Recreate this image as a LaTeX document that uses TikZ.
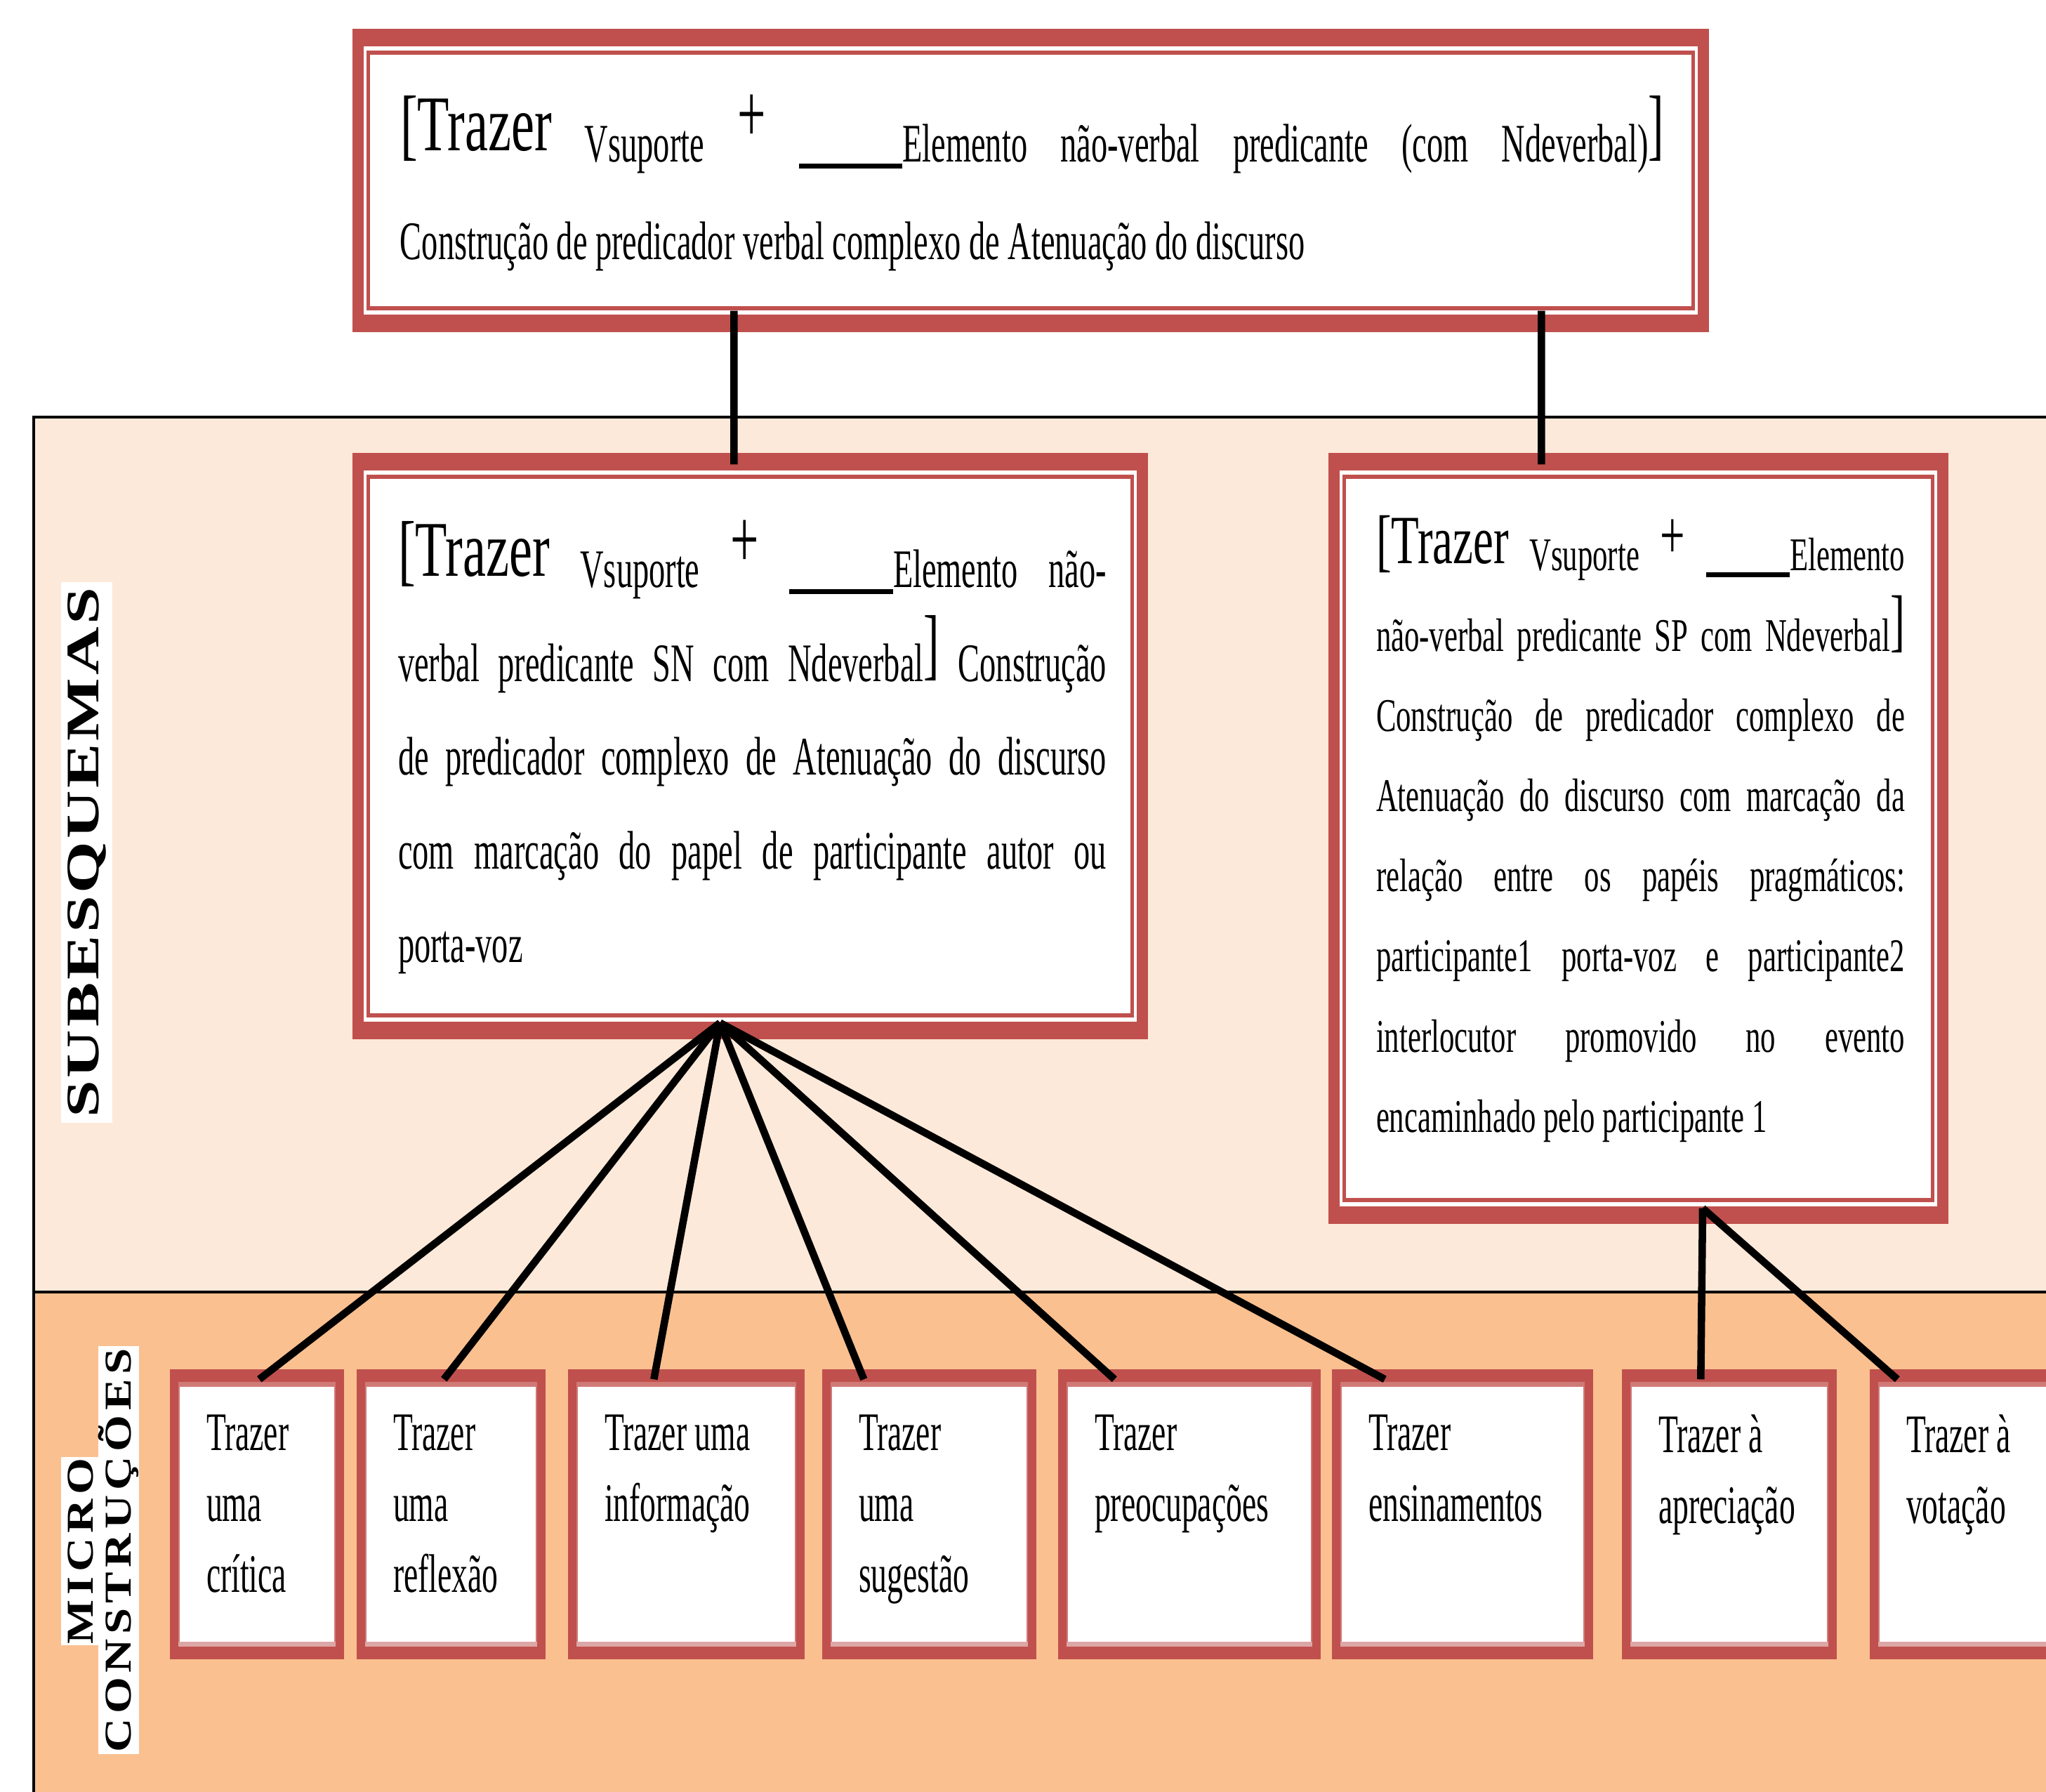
\documentclass[tikz,border=0pt]{standalone}
\usepackage{fontspec}
\setmainfont{Liberation Serif}
\newfontfamily\estreita[FakeStretch=0.6]{Liberation Serif}
\newfontfamily\medio[FakeStretch=0.64]{Liberation Serif}
\newfontfamily\largo[FakeStretch=0.66]{Liberation Serif}
\newfontfamily\caixa[FakeStretch=0.59]{Liberation Serif}
\newfontfamily\rotulo[LetterSpace=10]{Liberation Serif}
\newfontfamily\rotulogrande[LetterSpace=4]{Liberation Serif}
\usetikzlibrary{positioning,calc}
\definecolor{bordo}{RGB}{192,80,77}
\definecolor{pessego}{RGB}{253,233,217}
\definecolor{laranja}{RGB}{250,192,144}
\definecolor{rosa}{RGB}{208,122,120}
\definecolor{rosaclaro}{RGB}{221,166,166}

\newcommand{\abre}[2]{\raisebox{#2}{\largo\fontsize{#1}{#1}\selectfont[Trazer}}
\newcommand{\fecha}[2]{\raisebox{#2}{\fontsize{#1}{#1}\selectfont]}}
\newcommand{\mais}[2]{\raisebox{#2}{\fontsize{#1}{#1}\selectfont+}}
\newcommand{\lacuna}[1]{\rule[-2.6pt]{#1}{2pt}}
\hbadness=10000

\begin{document}
\begin{tikzpicture}[
    quadro/.style={fill=bordo, inner sep=0pt, path picture={
        \fill[white] ([shift={(0.16,0.25)}]path picture bounding box.south west) rectangle ([shift={(-0.16,-0.25)}]path picture bounding box.north east);
        \fill[bordo] ([shift={(0.20,0.31)}]path picture bounding box.south west) rectangle ([shift={(-0.20,-0.31)}]path picture bounding box.north east);
        \fill[white] ([shift={(0.25,0.37)}]path picture bounding box.south west) rectangle ([shift={(-0.25,-0.37)}]path picture bounding box.north east);
    }},
    caixinha/.style={fill=bordo, inner sep=0pt, path picture={
        \fill[rosa] ([shift={(0.12,0.18)}]path picture bounding box.south west) rectangle ([shift={(-0.12,-0.18)}]path picture bounding box.north east);
        \fill[rosaclaro] ([shift={(0.12,0.18)}]path picture bounding box.south west) rectangle ([shift={(-0.12,0.25)}]path picture bounding box.south east);
        \fill[white] ([shift={(0.14,0.25)}]path picture bounding box.south west) rectangle ([shift={(-0.14,-0.25)}]path picture bounding box.north east);
    }},
    texto/.style={inner sep=0pt, anchor=north west, align=justify},
    microtexto/.style={inner sep=0pt, anchor=north west, align=left, font=\caixa\fontsize{22}{28.7}\selectfont},
    etiqueta/.style={rotate=90, fill=white, inner sep=0pt},
    liga/.style={line width=3pt}
]
    \useasboundingbox (0,0) rectangle (29.14,25.52);
    \clip (0,0) rectangle (29.14,25.52);
    \fill[white] (0,0) rectangle (29.14,25.52);

    % faixas de fundo
    \fill[pessego] (0.48,7.12) rectangle (30,19.58);
    \fill[laranja] (0.48,-1) rectangle (30,7.12);
    \draw[line width=1.4pt] (30,19.58) -- (0.48,19.58) -- (0.48,-1);
    \draw[line width=1.4pt] (0.48,7.12) -- (30,7.12);

    % rotulos laterais
    \node[etiqueta, minimum width=7.7cm, minimum height=0.73cm, font=\rotulogrande\bfseries\fontsize{27}{27}\selectfont] (subesq) at (1.235,13.38) {\scalebox{1}[0.7]{SUBESQUEMAS}};
    \node[etiqueta, minimum width=2.68cm, minimum height=0.55cm, font=\rotulo\bfseries\fontsize{19}{19}\selectfont] (micro) at (1.145,3.43) {\scalebox{1}[0.81]{MICRO}};
    \node[etiqueta, minimum width=5.81cm, minimum height=0.54cm, font=\rotulo\bfseries\fontsize{19}{19}\selectfont] (constr) at (1.69,3.44) {\scalebox{1}[0.81]{CONSTRUÇÕES}};

    % esquema
    \node[quadro, minimum width=19.32cm, minimum height=4.32cm] (sup) at (14.68,22.95) {};
    \node[texto, text width=18cm, font=\estreita\fontsize{22}{39.5}\selectfont] (tsup) at ($(sup.north west)+(0.68,-0.94)$)
        {\abre{32}{4.5pt} Vsuporte \mais{34}{8pt} \lacuna{42pt}Elemento não-verbal predicante (com Ndeverbal)\fecha{32}{4.5pt}\linebreak
        Construção de predicador verbal complexo de Atenuação do discurso};

    % subesquemas
    \node[quadro, minimum width=11.33cm, minimum height=8.35cm] (meio) at (10.685,14.895) {};
    \node[texto, text width=10.09cm, font=\estreita\fontsize{22}{38}\selectfont] (tmeio) at ($(meio.north west)+(0.65,-0.96)$)
        {\abre{32}{4.5pt} Vsuporte \mais{34}{8pt} \lacuna{42pt}Elemento não-\linebreak
        verbal predicante SN com Ndeverbal\fecha{32}{4.5pt} Construção\linebreak
        de predicador complexo de Atenuação do discurso\linebreak
        com marcação do papel de participante autor ou\linebreak
        porta-voz};

    \node[quadro, minimum width=8.83cm, minimum height=10.98cm] (dir) at (23.335,13.58) {};
    \node[texto, text width=7.53cm, font=\medio\fontsize{19}{32.5}\selectfont] (tdir) at ($(dir.north west)+(0.68,-0.89)$)
        {\abre{28}{3pt} Vsuporte \mais{28}{5pt} \lacuna{34pt}Elemento\linebreak
        não-verbal predicante SP com Ndeverbal\fecha{28}{3pt}\linebreak
        Construção de predicador complexo de\linebreak
        Atenuação do discurso com marcação da\linebreak
        relação entre os papéis pragmáticos:\linebreak
        participante1 porta-voz e participante2\linebreak
        interlocutor promovido no evento\linebreak
        encaminhado pelo participante 1};

    % microconstrucoes
    \foreach \n/\cx/\w/\txt in {m1/3.66/2.48/{Trazer\\uma\\crítica}, m2/6.425/2.69/{Trazer\\uma\\reflexão},
        m3/9.775/3.37/{Trazer uma\\informação}, m4/13.235/3.05/{Trazer\\uma\\sugestão},
        m5/16.94/3.74/{Trazer\\preocupações}, m6/20.83/3.72/{Trazer\\ensinamentos},
        m7/24.63/3.06/{Trazer à\\apreciação}, m8/28.165/3.07/{Trazer à\\votação}}{
        \node[caixinha, minimum width=\w cm, minimum height=4.13cm] (\n) at (\cx,3.955) {};
        \node[microtexto] (t\n) at ($(\n.north west)+(0.52,-0.65)$) {\txt};
    }

    % ligacoes
    \draw[liga] ($(sup.south west)+(5.44,0.31)$) -- ($(meio.north west)+(5.44,-0.17)$);
    \draw[liga] ($(sup.south west)+(16.94,0.31)$) -- ($(dir.north west)+(3.04,-0.17)$);
    \coordinate (pontaA) at ($(meio.south)+(-0.43,0.24)$);
    \coordinate (pontaB) at ($(dir.south)+(0.915,0.23)$);
    \foreach \m/\dx in {m1/1.28, m2/1.25, m3/1.23, m4/0.60, m5/0.81, m6/0.76}
        \draw[liga] (pontaA) -- ($(\m.north west)+(\dx,-0.15)$);
    \foreach \m/\dx in {m7/1.13, m8/0.40}
        \draw[liga] (pontaB) -- ($(\m.north west)+(\dx,-0.15)$);
\end{tikzpicture}
\end{document}
